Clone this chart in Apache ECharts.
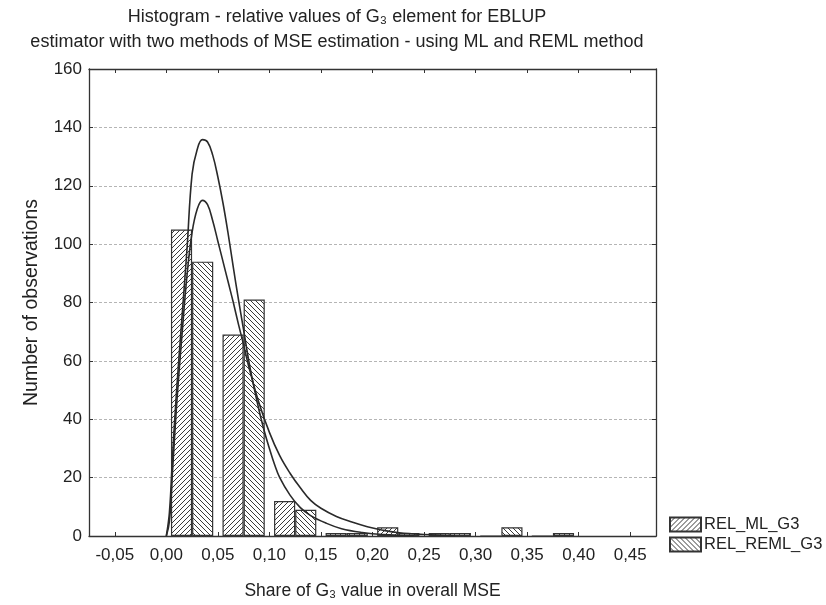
<!DOCTYPE html>
<html>
<head>
<meta charset="utf-8">
<script src="https://cdn.jsdelivr.net/npm/echarts@6/dist/echarts.min.js"></script>
<style>html,body{margin:0;padding:0;background:#fff}#c{width:826px;height:605px}</style>
</head>
<body>
<div id="c"></div>
<script>
// ---- data ----
var binCenters = [0.025, 0.075, 0.125, 0.175, 0.225, 0.275, 0.325, 0.375];
var relML   = [105, 69, 12, 1, 3, 1, 0, 0];
var relREML = [94, 81, 9, 1, 1, 1, 3, 1];
var xTicks = [-0.05, 0, 0.05, 0.10, 0.15, 0.20, 0.25, 0.30, 0.35, 0.40, 0.45];
// fitted curves, points [x, count]
var curveMLx = [0, 0.003, 0.006, 0.010, 0.015, 0.020, 0.025, 0.030, 0.035, 0.040, 0.045, 0.050, 0.055, 0.060, 0.065, 0.070, 0.075, 0.080, 0.085, 0.090, 0.095, 0.100, 0.105, 0.110, 0.120, 0.130, 0.140, 0.155, 0.170, 0.190, 0.210, 0.240];
var curveMLy = [0, 8, 27, 50, 74, 98, 124, 132.5, 135.8, 135, 130.5, 123, 114, 103.5, 92, 81, 70.5, 60, 51, 43, 36, 30, 24.5, 20, 14, 9.7, 7, 4.4, 2.5, 1.2, 0.5, 0.1];
var curveREMLx = [0, 0.003, 0.006, 0.010, 0.015, 0.020, 0.025, 0.030, 0.035, 0.040, 0.045, 0.050, 0.055, 0.060, 0.065, 0.070, 0.075, 0.080, 0.090, 0.100, 0.110, 0.120, 0.130, 0.140, 0.150, 0.165, 0.180, 0.195, 0.210, 0.226, 0.250, 0.280];
var curveREMLy = [0, 5, 22, 45, 68, 89, 104, 112, 115, 113.5, 108, 101, 94, 87, 80, 72.5, 65.5, 58, 45.5, 35.5, 27.5, 21.5, 16.5, 12.2, 9.5, 6.7, 4.8, 3.2, 2.0, 1.1, 0.5, 0.1];

function zip(a, b) { return a.map(function (v, i) { return [v, b[i]]; }); }
function hatch(dir) {
  var s = 5, c = document.createElement('canvas');
  c.width = s; c.height = s;
  var g = c.getContext('2d');
  g.fillStyle = '#ffffff'; g.fillRect(0, 0, s, s);
  g.strokeStyle = '#3a3a3a'; g.lineWidth = 1;
  g.beginPath();
  if (dir > 0) {
    g.moveTo(-1, s + 1); g.lineTo(s + 1, -1);
    g.moveTo(-1, 1); g.lineTo(1, -1);
    g.moveTo(s - 1, s + 1); g.lineTo(s + 1, s - 1);
  } else {
    g.moveTo(-1, -1); g.lineTo(s + 1, s + 1);
    g.moveTo(-1, s - 1); g.lineTo(1, s + 1);
    g.moveTo(s - 1, -1); g.lineTo(s + 1, 1);
  }
  g.stroke();
  return { image: c, repeat: 'repeat' };
}
function fmt(v) { return v.toFixed(2).replace('.', ','); }

var FONT = 'Liberation Sans, Arial, sans-serif';
var txt = '#222';
var chart = echarts.init(document.getElementById('c'), null, { renderer: 'canvas' });
var xBase = {
  type: 'value', min: -0.075, max: 0.475,
  axisLine: { show: true, onZero: false, lineStyle: { color: '#333', width: 1.3 } },
  splitLine: { show: false }
};
chart.setOption({
  backgroundColor: '#ffffff',
  animation: false,
  textStyle: { fontFamily: FONT },
  title: {
    text: 'Histogram - relative values of G\u2083 element for EBLUP\nestimator with two methods of MSE estimation - using ML and REML method',
    left: 337, top: 5, textAlign: 'center', padding: 0,
    textStyle: { fontFamily: FONT, fontSize: 18, fontWeight: 'normal', color: txt, lineHeight: 25 }
  },
  legend: {
    orient: 'vertical', left: 664, top: 511,
    itemWidth: 31, itemHeight: 14, itemGap: 3,
    icon: 'rect',
    data: ['REL_ML_G3', 'REL_REML_G3'],
    textStyle: { fontFamily: FONT, fontSize: 16.5, color: txt, padding: [0, 0, 0, -2] }
  },
  grid: { left: 89, right: 170, top: 69, bottom: 67, containLabel: false },
  xAxis: [
    Object.assign({}, xBase, {
      position: 'bottom',
      name: 'Share of G\u2083 value in overall MSE', nameLocation: 'middle', nameGap: 46,
      nameTextStyle: { fontFamily: FONT, fontSize: 17.5, color: txt },
      axisTick: { show: true, inside: true, length: 4, customValues: xTicks, lineStyle: { color: '#333' } },
      axisLabel: { customValues: xTicks, formatter: fmt, fontFamily: FONT, fontSize: 17, color: txt, margin: 11 }
    }),
    Object.assign({}, xBase, {
      position: 'top',
      axisTick: { show: true, inside: true, length: 4, customValues: xTicks, lineStyle: { color: '#333' } },
      axisLabel: { show: false }
    })
  ],
  yAxis: [
    {
      type: 'value', min: 0, max: 160, interval: 20, position: 'left',
      name: 'Number of observations', nameLocation: 'middle', nameGap: 47,
      nameTextStyle: { fontFamily: FONT, fontSize: 19.5, color: txt },
      axisLine: { show: true, onZero: false, lineStyle: { color: '#333', width: 1.3 } },
      axisTick: { show: true, inside: true, length: 4, lineStyle: { color: '#333' } },
      axisLabel: { fontFamily: FONT, fontSize: 17, color: txt, margin: 7 },
      splitLine: { show: true, lineStyle: { color: '#b5b5b5', type: [3, 2], width: 1 } }
    },
    {
      type: 'value', min: 0, max: 160, interval: 20, position: 'right',
      axisLine: { show: true, onZero: false, lineStyle: { color: '#333', width: 1.3 } },
      axisTick: { show: true, inside: true, length: 4, lineStyle: { color: '#333' } },
      axisLabel: { show: false },
      splitLine: { show: false }
    }
  ],
  series: [
    {
      name: 'REL_ML_G3', type: 'bar', xAxisIndex: 0, yAxisIndex: 0,
      data: zip(binCenters, relML), barWidth: '41%', barGap: '0%',
      itemStyle: { color: hatch(1), borderColor: '#333', borderWidth: 1.2 },
      z: 2
    },
    {
      name: 'REL_REML_G3', type: 'bar', xAxisIndex: 0, yAxisIndex: 0,
      data: zip(binCenters, relREML), barWidth: '41%', barGap: '0%',
      itemStyle: { color: hatch(-1), borderColor: '#333', borderWidth: 1.2 },
      z: 2
    },
    {
      name: 'ML fit', type: 'line', data: zip(curveMLx, curveMLy),
      smooth: 0.4, showSymbol: false, symbol: 'none',
      lineStyle: { color: '#2a2a2a', width: 1.6 }, z: 5, silent: true
    },
    {
      name: 'REML fit', type: 'line', data: zip(curveREMLx, curveREMLy),
      smooth: 0.4, showSymbol: false, symbol: 'none',
      lineStyle: { color: '#2a2a2a', width: 1.6 }, z: 5, silent: true
    }
  ]
});
</script>
</body>
</html>
